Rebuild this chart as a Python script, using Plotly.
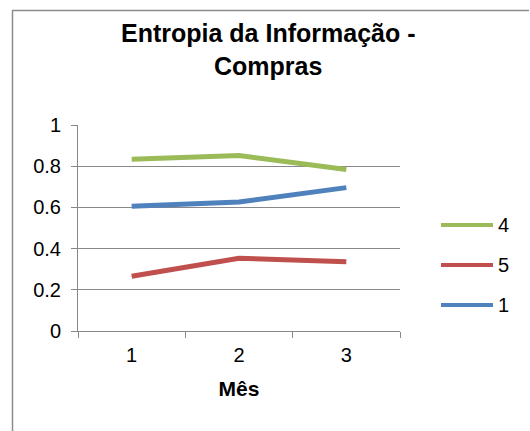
import plotly.graph_objects as go

# Month categories and entropy values per group
meses = [1, 2, 3]
mes_labels = ["1", "2", "3"]
series_names = ["4", "5", "1"]
serie_4 = [0.834, 0.852, 0.784]
serie_5 = [0.266, 0.353, 0.336]
serie_1 = [0.605, 0.626, 0.696]
y_ticks = [0, 0.2, 0.4, 0.6, 0.8, 1]
y_tick_labels = ["0", "0.2", "0.4", "0.6", "0.8", "1"]

colors = {"4": "#9BBB59", "5": "#C0504D", "1": "#4F81BD"}
values = {"4": serie_4, "5": serie_5, "1": serie_1}

FONT = "Liberation Sans, Arial, sans-serif"
GRID = "#888888"

W, H = 530, 431
L, R, T, B = 78, 130, 125, 100
PW, PH = W - L - R, H - T - B


def px_x(x):
    return (x - L) / PW


def px_y(y):
    return (H - B - y) / PH


fig = go.Figure()

# Draw the blue series first so green/red sit on top
for name in ["1", "5", "4"]:
    fig.add_trace(go.Scatter(
        x=meses, y=values[name], mode="lines", name=name,
        line=dict(color=colors[name], width=5),
        showlegend=False, hoverinfo="x+y+name",
    ))

shapes = []
annotations = []

# Outer chart border: left edge plus top edge split into short segments
BORDER = "#8c8c8c"
shapes.append(dict(type="line", xref="paper", yref="paper",
                   x0=px_x(12.5), x1=px_x(12.5), y0=px_y(431), y1=px_y(10.5),
                   line=dict(color=BORDER, width=1.5)))
edges = [12, 100, 200, 300, 400, 529]
for xa, xb in zip(edges[:-1], edges[1:]):
    shapes.append(dict(type="line", xref="paper", yref="paper",
                       x0=px_x(xa), x1=px_x(xb), y0=px_y(10.5), y1=px_y(10.5),
                       line=dict(color=BORDER, width=1.5)))

# Legend drawn with line swatches and labels
legend_y = [225, 265, 305]
for name, ly in zip(series_names, legend_y):
    shapes.append(dict(type="line", xref="paper", yref="paper",
                       x0=px_x(441), x1=px_x(493), y0=px_y(ly), y1=px_y(ly),
                       line=dict(color=colors[name], width=4)))
    annotations.append(dict(text=name, xref="paper", yref="paper",
                            x=px_x(496), y=px_y(ly), xanchor="left", yanchor="middle",
                            showarrow=False, font=dict(family=FONT, size=20, color="#000")))

# Two-line chart title
annotations.append(dict(text="<b>Entropia da Informação -<br>Compras</b>",
                        xref="paper", yref="paper", x=px_x(268), y=px_y(50),
                        xanchor="center", yanchor="middle", showarrow=False,
                        font=dict(family=FONT, size=25, color="#000")))

fig.update_layout(
    width=W, height=H,
    margin=dict(l=L, r=R, t=T, b=B),
    paper_bgcolor="white", plot_bgcolor="white",
    xaxis=dict(
        range=[0.5, 3.5], tickvals=meses, ticktext=mes_labels,
        ticks="", showgrid=False, zeroline=False,
        showline=True, linecolor=GRID, linewidth=1,
        tickfont=dict(family=FONT, size=20, color="#000"),
        ticklabelstandoff=6,
        minor=dict(tickvals=[0.5, 1.5, 2.5, 3.5], ticks="outside",
                   ticklen=6, tickcolor=GRID, tickwidth=1, showgrid=False),
        title=dict(text="<b>Mês</b>", font=dict(family=FONT, size=21, color="#000"),
                   standoff=16),
        fixedrange=True,
    ),
    yaxis=dict(
        range=[0, 1], tickvals=y_ticks, ticktext=y_tick_labels,
        ticks="outside", ticklen=6, tickcolor=GRID, tickwidth=1,
        showgrid=True, gridcolor=GRID, gridwidth=1, zeroline=False,
        showline=True, linecolor=GRID, linewidth=1,
        tickfont=dict(family=FONT, size=20, color="#000"),
        ticklabelstandoff=6,
        fixedrange=True,
    ),
    shapes=shapes,
    annotations=annotations,
    showlegend=False,
)

fig.write_html("out.html", config={"displayModeBar": False})
